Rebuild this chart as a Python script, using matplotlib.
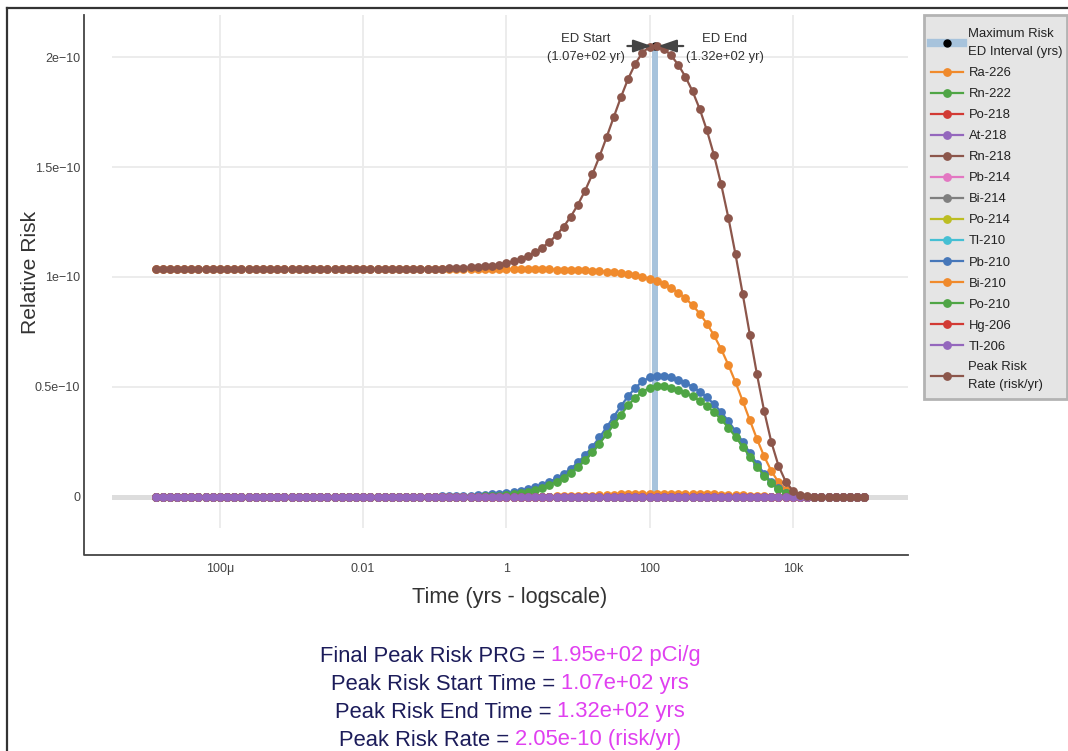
import numpy as np
import matplotlib
matplotlib.use("Agg")
import matplotlib.pyplot as plt
from matplotlib.lines import Line2D
from matplotlib.patches import Rectangle
from matplotlib.offsetbox import TextArea, HPacker, AnchoredOffsetbox

plt.rcParams['font.family'] = ['Liberation Sans', 'DejaVu Sans']

# ---------------------------------------------------------------- data
# log10 of time in years, one sample every tenth of a decade
log_time = [
    -4.9, -4.8, -4.7, -4.6, -4.5, -4.4, -4.3, -4.2, -4.1, -4.0,
    -3.9, -3.8, -3.7, -3.6, -3.5, -3.4, -3.3, -3.2, -3.1, -3.0,
    -2.9, -2.8, -2.7, -2.6, -2.5, -2.4, -2.3, -2.2, -2.1, -2.0,
    -1.9, -1.8, -1.7, -1.6, -1.5, -1.4, -1.3, -1.2, -1.1, -1.0,
    -0.9, -0.8, -0.7, -0.6, -0.5, -0.4, -0.3, -0.2, -0.1, 0.0,
    0.1, 0.2, 0.3, 0.4, 0.5, 0.6, 0.7, 0.8, 0.9, 1.0,
    1.1, 1.2, 1.3, 1.4, 1.5, 1.6, 1.7, 1.8, 1.9, 2.0,
    2.1, 2.2, 2.3, 2.4, 2.5, 2.6, 2.7, 2.8, 2.9, 3.0,
    3.1, 3.2, 3.3, 3.4, 3.5, 3.6, 3.7, 3.8, 3.9, 4.0,
    4.1, 4.2, 4.3, 4.4, 4.5, 4.6, 4.7, 4.8, 4.9, 5.0,
]

UNIT = 1e-12  # risk values below are in units of 1e-12

ra226 = [
    103.6, 103.6, 103.6, 103.6, 103.6, 103.6, 103.6, 103.6, 103.6, 103.6,
    103.6, 103.6, 103.6, 103.6, 103.6, 103.6, 103.6, 103.6, 103.6, 103.6,
    103.6, 103.6, 103.6, 103.6, 103.6, 103.6, 103.6, 103.6, 103.6, 103.6,
    103.6, 103.6, 103.6, 103.6, 103.6, 103.6, 103.6, 103.6, 103.6, 103.6,
    103.59, 103.59, 103.59, 103.59, 103.59, 103.58, 103.58, 103.57, 103.56, 103.56,
    103.54, 103.53, 103.51, 103.49, 103.46, 103.42, 103.38, 103.32, 103.24, 103.15,
    103.04, 102.89, 102.71, 102.48, 102.19, 101.83, 101.38, 100.81, 100.10, 99.21,
    98.10, 96.73, 95.02, 92.92, 90.34, 87.19, 83.38, 78.82, 73.44, 67.18,
    60.05, 52.14, 43.65, 34.90, 26.33, 18.47, 11.82, 6.73, 3.32, 1.36,
    0.44, 0.11, 0.02, 0.0, 0.0, 0.0, 0.0, 0.0, 0.0, 0.0,
]

pb210 = [
    0.0, 0.0, 0.0, 0.0, 0.0, 0.0, 0.0, 0.0, 0.0, 0.0,
    0.0, 0.0, 0.0, 0.0, 0.0, 0.0, 0.0, 0.0, 0.0, 0.0,
    0.0, 0.0, 0.0, 0.0, 0.01, 0.01, 0.01, 0.01, 0.01, 0.02,
    0.02, 0.03, 0.04, 0.05, 0.06, 0.07, 0.09, 0.12, 0.15, 0.18,
    0.23, 0.29, 0.36, 0.46, 0.58, 0.73, 0.91, 1.14, 1.44, 1.80,
    2.26, 2.83, 3.54, 4.43, 5.51, 6.85, 8.49, 10.48, 12.87, 15.71,
    19.02, 22.83, 27.09, 31.71, 36.54, 41.33, 45.80, 49.62, 52.53, 54.38,
    55.20, 55.15, 54.48, 53.37, 51.90, 50.10, 47.91, 45.29, 42.20, 38.60,
    34.50, 29.96, 25.08, 20.05, 15.13, 10.61, 6.79, 3.87, 1.91, 0.78,
    0.25, 0.06, 0.01, 0.0, 0.0, 0.0, 0.0, 0.0, 0.0, 0.0,
]

bi210 = [
    0.0, 0.0, 0.0, 0.0, 0.0, 0.0, 0.0, 0.0, 0.0, 0.0,
    0.0, 0.0, 0.0, 0.0, 0.0, 0.0, 0.0, 0.0, 0.0, 0.0,
    0.0, 0.0, 0.0, 0.0, 0.0, 0.0, 0.0, 0.0, 0.0, 0.0,
    0.0, 0.0, 0.0, 0.0, 0.0, 0.0, 0.0, 0.0, 0.0, 0.0,
    0.01, 0.01, 0.01, 0.01, 0.02, 0.02, 0.02, 0.03, 0.04, 0.05,
    0.06, 0.08, 0.10, 0.12, 0.15, 0.19, 0.23, 0.29, 0.35, 0.43,
    0.52, 0.62, 0.74, 0.86, 1.00, 1.13, 1.25, 1.35, 1.43, 1.48,
    1.50, 1.50, 1.48, 1.45, 1.41, 1.37, 1.31, 1.23, 1.15, 1.05,
    0.94, 0.82, 0.68, 0.55, 0.41, 0.29, 0.19, 0.11, 0.05, 0.02,
    0.01, 0.0, 0.0, 0.0, 0.0, 0.0, 0.0, 0.0, 0.0, 0.0,
]

po210 = [
    0.0, 0.0, 0.0, 0.0, 0.0, 0.0, 0.0, 0.0, 0.0, 0.0,
    0.0, 0.0, 0.0, 0.0, 0.0, 0.0, 0.0, 0.0, 0.0, 0.0,
    0.0, 0.0, 0.0, 0.0, 0.0, 0.0, 0.0, 0.0, 0.0, 0.0,
    0.0, 0.0, 0.0, 0.0, 0.0, 0.0, 0.0, 0.01, 0.01, 0.01,
    0.02, 0.03, 0.05, 0.08, 0.13, 0.19, 0.29, 0.43, 0.62, 0.90,
    1.26, 1.75, 2.39, 3.19, 4.20, 5.44, 6.96, 8.81, 11.03, 13.66,
    16.74, 20.28, 24.24, 28.54, 33.02, 37.48, 41.63, 45.19, 47.90, 49.62,
    50.40, 50.37, 49.76, 48.74, 47.40, 45.75, 43.76, 41.36, 38.54, 35.25,
    31.51, 27.36, 22.91, 18.31, 13.82, 9.69, 6.20, 3.53, 1.74, 0.71,
    0.23, 0.06, 0.01, 0.0, 0.0, 0.0, 0.0, 0.0, 0.0, 0.0,
]

# nuclides whose contribution stays at zero over the whole time range
flat_zero = [
    0.0, 0.0, 0.0, 0.0, 0.0, 0.0, 0.0, 0.0, 0.0, 0.0,
    0.0, 0.0, 0.0, 0.0, 0.0, 0.0, 0.0, 0.0, 0.0, 0.0,
    0.0, 0.0, 0.0, 0.0, 0.0, 0.0, 0.0, 0.0, 0.0, 0.0,
    0.0, 0.0, 0.0, 0.0, 0.0, 0.0, 0.0, 0.0, 0.0, 0.0,
    0.0, 0.0, 0.0, 0.0, 0.0, 0.0, 0.0, 0.0, 0.0, 0.0,
    0.0, 0.0, 0.0, 0.0, 0.0, 0.0, 0.0, 0.0, 0.0, 0.0,
    0.0, 0.0, 0.0, 0.0, 0.0, 0.0, 0.0, 0.0, 0.0, 0.0,
    0.0, 0.0, 0.0, 0.0, 0.0, 0.0, 0.0, 0.0, 0.0, 0.0,
    0.0, 0.0, 0.0, 0.0, 0.0, 0.0, 0.0, 0.0, 0.0, 0.0,
    0.0, 0.0, 0.0, 0.0, 0.0, 0.0, 0.0, 0.0, 0.0, 0.0,
]

peak_risk_rate = [
    103.6, 103.6, 103.6, 103.6, 103.6, 103.6, 103.6, 103.6, 103.6, 103.6,
    103.6, 103.6, 103.6, 103.6, 103.6, 103.6, 103.6, 103.6, 103.6, 103.6,
    103.6, 103.6, 103.6, 103.6, 103.61, 103.61, 103.61, 103.61, 103.61, 103.62,
    103.62, 103.63, 103.64, 103.65, 103.66, 103.67, 103.69, 103.73, 103.76, 103.79,
    103.85, 103.92, 104.01, 104.14, 104.32, 104.52, 104.80, 105.17, 105.66, 106.31,
    107.12, 108.19, 109.54, 111.23, 113.32, 115.90, 119.06, 122.90, 127.49, 132.95,
    139.32, 146.62, 154.78, 163.59, 172.75, 181.77, 190.06, 196.97, 201.96, 204.69,
    205.20, 203.75, 200.74, 196.48, 191.05, 184.41, 176.36, 166.70, 155.33, 142.08,
    127.00, 110.28, 92.32, 73.81, 55.69, 39.06, 25.00, 14.24, 7.02, 2.87,
    0.93, 0.23, 0.04, 0.0, 0.0, 0.0, 0.0, 0.0, 0.0, 0.0,
]

nuclides = ['Ra-226', 'Rn-222', 'Po-218', 'At-218', 'Rn-218', 'Pb-214', 'Bi-214',
            'Po-214', 'Tl-210', 'Pb-210', 'Bi-210', 'Po-210', 'Hg-206', 'Tl-206']
nuclide_values = [ra226, flat_zero, flat_zero, flat_zero, flat_zero, flat_zero, flat_zero,
                  flat_zero, flat_zero, pb210, bi210, po210, flat_zero, flat_zero]

ed_start = 107.0      # yr
ed_end = 132.0        # yr
peak_rate = 2.05e-10  # risk/yr
final_prg = 195.0     # pCi/g

x_ticks = [1e-4, 1e-2, 1.0, 1e2, 1e4]
x_tick_labels = ['100\u03bc', '0.01', '1', '100', '10k']
y_ticks = [0.0, 0.5e-10, 1e-10, 1.5e-10, 2e-10]
y_tick_labels = ['0', '0.5e\u221210', '1e\u221210', '1.5e\u221210', '2e\u221210']

# ---------------------------------------------------------------- style
palette = ['#f08a2c', '#4fa545', '#d23a34', '#9467bd', '#8c564b', '#e377c2',
           '#7f7f7f', '#bcbd22', '#45bfd3', '#4677b9', '#f08a2c', '#4fa545',
           '#d23a34', '#9467bd']
total_color = '#8c564b'
band_color = '#a7c3dc'
tick_color = '#444444'

W, H = 1068, 751


def fx(px):
    return px / W


def fy(py):
    return 1 - py / H


fig = plt.figure(figsize=(W / 100, H / 100), dpi=100)
ax = fig.add_axes([fx(112), fy(528), fx(908) - fx(112), fy(15) - fy(528)])

t = 10.0 ** np.array(log_time)

# ED interval band and maximum marker
ax.fill_between([ed_start, ed_end], [0, 0], [peak_rate, peak_rate],
                color=band_color, lw=0, zorder=2)
ax.plot([np.sqrt(ed_start * ed_end)], [peak_rate], 'o', color='black', ms=5, zorder=2.5)

handles = [Line2D([], [], color=band_color, lw=6, marker='o', ms=5,
                  mfc='black', mec='black')]
labels = ['Maximum Risk\nED Interval (yrs)']

for name, vals, col in zip(nuclides, nuclide_values, palette):
    ln, = ax.plot(t, np.array(vals) * UNIT, color=col, lw=1.6, marker='o', ms=5.3,
                  mec=col, mfc=col, zorder=3)
    handles.append(ln)
    labels.append(name)

ln, = ax.plot(t, np.array(peak_risk_rate) * UNIT, color=total_color, lw=1.6, marker='o',
              ms=5.3, mec=total_color, mfc=total_color, zorder=4)
handles.append(ln)
labels.append('Peak Risk\nRate (risk/yr)')

# ED start / end arrows
arrow = dict(arrowstyle='-|>,head_length=1.1,head_width=0.38', color='#444444', lw=1.6,
             shrinkA=0, shrinkB=0, mutation_scale=10)
ax.annotate('', xy=(ed_start, peak_rate), xytext=(-17.5, 0), textcoords='offset points',
            arrowprops=arrow, zorder=6)
ax.annotate('', xy=(ed_end, peak_rate), xytext=(18, 0), textcoords='offset points',
            arrowprops=arrow, zorder=6)
ax.annotate('ED Start\n(%.2e yr)' % ed_start, xy=(ed_start, peak_rate), xytext=(-19.5, -1.4),
            textcoords='offset points', ha='right', va='center', multialignment='center',
            fontsize=9.4, linespacing=1.65, color='#333333', zorder=6)
ax.annotate('ED End\n(%.2e yr)' % ed_end, xy=(ed_end, peak_rate), xytext=(20, -1.4),
            textcoords='offset points', ha='left', va='center', multialignment='center',
            fontsize=9.4, linespacing=1.65, color='#333333', zorder=6)

# axes, grid and ticks
ax.set_xscale('log')
ax.set_xlim(10 ** -5.508, 10 ** 5.609)
ax.set_ylim(-14.1e-12, 219.1e-12)
ax.set_xticks(x_ticks)
ax.set_xticklabels(x_tick_labels)
ax.minorticks_off()
ax.set_yticks(y_ticks)
ax.set_yticklabels(y_tick_labels)
ax.tick_params(axis='both', length=0, labelsize=9, labelcolor=tick_color)
ax.tick_params(axis='x', pad=25)
ax.tick_params(axis='y', pad=23)
ax.grid(True, color='#ebebeb', lw=1.3)
ax.set_axisbelow(True)
ax.axhline(0, color='#dddddd', lw=3.6, zorder=1.5)
for s in ax.spines.values():
    s.set_visible(False)
ax.patch.set_alpha(0)

fig.add_artist(Line2D([fx(84), fx(84), fx(908)], [fy(15), fy(555), fy(555)],
                      color='#444444', lw=1.3))

fig.text(fx(30), fy(272), 'Relative Risk', rotation=90, ha='center', va='center',
         fontsize=15.2, color='#333333')
fig.text(fx(510), fy(598), 'Time (yrs - logscale)', ha='center', va='center',
         fontsize=15.6, color='#333333')

# legend: grey panel with the entries laid over it
fig.add_artist(Rectangle((fx(924), fy(399)), fx(1067) - fx(924), fy(15) - fy(399),
                         transform=fig.transFigure, facecolor='#e5e5e5',
                         edgecolor='#b3b3b3', lw=2, zorder=0.5))
leg = fig.legend(handles, labels, loc='upper left', bbox_to_anchor=(fx(931), fy(28.5)),
                 bbox_transform=fig.transFigure, borderaxespad=0, fontsize=9.4,
                 handlelength=2.45, handletextpad=0.42, borderpad=0, labelspacing=0.68,
                 frameon=False)
for txt in leg.get_texts():
    txt.set_color('#222222')
    txt.set_linespacing(1.65)

# summary lines under the plot
summary = [
    ('Final Peak Risk PRG =', '%.2e pCi/g' % final_prg, 656),
    ('Peak Risk Start Time =', '%.2e yrs' % ed_start, 684),
    ('Peak Risk End Time =', '%.2e yrs' % ed_end, 712),
    ('Peak Risk Rate =', '%.2e (risk/yr)' % peak_rate, 740),
]
for left, right, ypix in summary:
    box = HPacker(children=[
        TextArea(left, textprops=dict(fontsize=15.8, color='#1c1c5a')),
        TextArea(right, textprops=dict(fontsize=15.8, color='#e040f0')),
    ], align='baseline', pad=0, sep=4.4)
    anchored = AnchoredOffsetbox(loc='center', child=box, pad=0, frameon=False,
                                 bbox_to_anchor=(fx(510), fy(ypix)),
                                 bbox_transform=fig.transFigure, borderpad=0)
    fig.add_artist(anchored)

# outer border
fig.add_artist(Line2D([fx(7), 1.0], [fy(8), fy(8)], color='#333333', lw=1.6))
fig.add_artist(Line2D([fx(7), fx(7)], [fy(8), 0.0], color='#333333', lw=1.6))

fig.savefig('out.png', dpi=100)
